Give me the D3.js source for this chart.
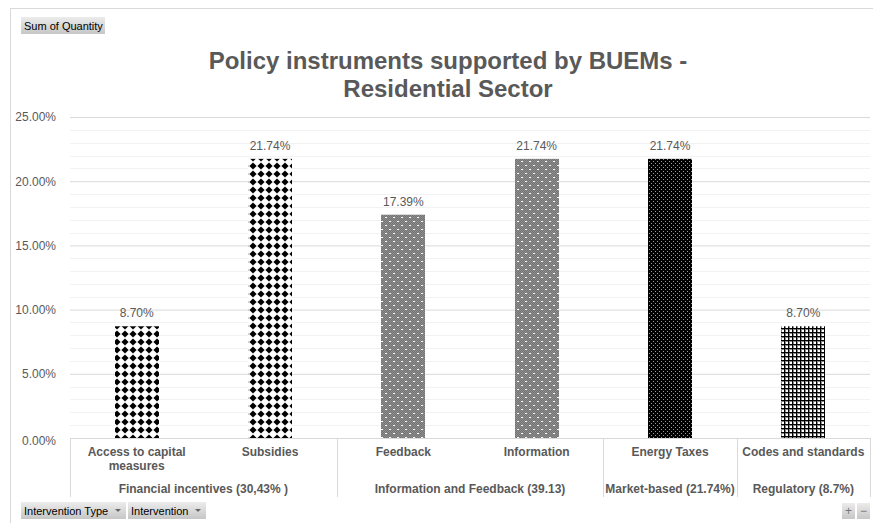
<!DOCTYPE html>
<html>
<head>
<meta charset="utf-8">
<script src="https://cdn.jsdelivr.net/npm/d3@7"></script>
<style>
  html, body { margin: 0; padding: 0; background: #fff; }
  svg { display: block; }
</style>
</head>
<body>
<svg id="chart" width="873" height="523"></svg>
<script>
// Share of policy instruments, by intervention
const categories = ["Access to capital measures", "Subsidies", "Feedback", "Information", "Energy Taxes", "Codes and standards"];
const values = [8.70, 21.74, 17.39, 21.74, 21.74, 8.70];
const groupLabels = ["Financial incentives (30,43% )", "Information and Feedback (39.13)", "Market-based (21.74%)", "Regulatory (8.7%)"];
const groupSizes = [2, 2, 1, 1];
const yTicks = [0, 5, 10, 15, 20, 25];
const titleLines = ["Policy instruments supported by BUEMs -", "Residential Sector"];

const fillPattern = ["diamonds", "diamonds", "graydots", "graydots", "darkdots", "grid"];

const svg = d3.select("#chart");
const plot = { left: 70, right: 870, top: 117, bottom: 438 };
const textColor = "#595959";
const font = "'Liberation Sans', Arial, sans-serif";

// Patterns
const defs = svg.append("defs");
{
  const p = defs.append("pattern").attr("id", "diamonds").attr("patternUnits", "userSpaceOnUse")
    .attr("width", 8).attr("height", 8).attr("x", 1).attr("y", 2);
  p.append("rect").attr("width", 8).attr("height", 8).attr("fill", "#fff");
  p.append("path").attr("d", "M4,0.4 L7.6,4 L4,7.6 L0.4,4 Z").attr("fill", "#000");
}
{
  const p = defs.append("pattern").attr("id", "graydots").attr("patternUnits", "userSpaceOnUse")
    .attr("width", 8).attr("height", 8);
  p.append("rect").attr("width", 8).attr("height", 8).attr("fill", "#737373");
  for (let i = 0; i < 8; i++) for (let j = 0; j < 8; j++) {
    if ((i + j) % 2 === 0) p.append("rect").attr("x", i).attr("y", j).attr("width", 1).attr("height", 1).attr("fill", "#8f8f8f");
  }
  p.append("rect").attr("x", 1).attr("y", 1).attr("width", 2).attr("height", 1).attr("fill", "#fff");
  p.append("rect").attr("x", 5).attr("y", 5).attr("width", 2).attr("height", 1).attr("fill", "#fff");
}
{
  const p = defs.append("pattern").attr("id", "darkdots").attr("patternUnits", "userSpaceOnUse")
    .attr("width", 4).attr("height", 4);
  p.append("rect").attr("width", 4).attr("height", 4).attr("fill", "#000");
  p.append("rect").attr("x", 1).attr("y", 1).attr("width", 1).attr("height", 1).attr("fill", "#999");
  p.append("rect").attr("x", 3).attr("y", 3).attr("width", 1).attr("height", 1).attr("fill", "#999");
}
{
  const p = defs.append("pattern").attr("id", "grid").attr("patternUnits", "userSpaceOnUse")
    .attr("width", 4).attr("height", 4);
  p.append("rect").attr("width", 4).attr("height", 4).attr("fill", "#fff");
  p.append("rect").attr("x", 0).attr("y", 0).attr("width", 1).attr("height", 4).attr("fill", "#000");
  p.append("rect").attr("x", 0).attr("y", 0).attr("width", 4).attr("height", 1).attr("fill", "#000");
  p.append("rect").attr("x", 1).attr("y", 1).attr("width", 1).attr("height", 3).attr("fill", "#888");
  p.append("rect").attr("x", 1).attr("y", 1).attr("width", 3).attr("height", 1).attr("fill", "#888");
}
{
  const g = defs.append("linearGradient").attr("id", "btn").attr("x1", 0).attr("y1", 0).attr("x2", 0).attr("y2", 1);
  g.append("stop").attr("offset", "0%").attr("stop-color", "#ececec");
  g.append("stop").attr("offset", "100%").attr("stop-color", "#c6c6c6");
}

// Chart frame
svg.append("rect").attr("x", 10.5).attr("y", 8.5).attr("width", 870).attr("height", 530)
  .attr("fill", "#fff").attr("stroke", "#d9d9d9");

// Scales
const x = d3.scaleBand().domain(categories).range([plot.left, plot.right]).paddingInner(0.67).paddingOuter(0.335);
const y = d3.scaleLinear().domain([0, 25]).range([plot.bottom, plot.top]);

// Gridlines: minor every 1%, major every 5%
const minor = d3.range(1, 25).filter(v => v % 5 !== 0);
svg.append("g").selectAll("line").data(minor).join("line")
  .attr("x1", plot.left).attr("x2", plot.right)
  .attr("y1", d => Math.round(y(d)) + 0.5).attr("y2", d => Math.round(y(d)) + 0.5)
  .attr("stroke", "#f2f2f2");

const yAxis = d3.axisLeft(y).tickValues(yTicks).tickSize(-(plot.right - plot.left)).tickPadding(14)
  .tickFormat(d => d3.format(".2f")(d) + "%");
const yg = svg.append("g").attr("transform", `translate(${plot.left},0)`).call(yAxis);
yg.select(".domain").remove();
yg.selectAll(".tick line").attr("stroke", "#d9d9d9");
yg.selectAll(".tick text").attr("fill", textColor).attr("font-family", font).attr("font-size", 12);
yg.selectAll(".tick").filter(d => d === 0).select("text").attr("dy", "0.55em");

// Bars
svg.append("g").selectAll("rect").data(categories).join("rect")
  .attr("x", d => Math.round(x(d)))
  .attr("y", (d, i) => y(values[i]))
  .attr("width", Math.round(x.bandwidth()))
  .attr("height", (d, i) => y(0) - y(values[i]))
  .attr("fill", (d, i) => `url(#${fillPattern[i]})`);

// Value labels
svg.append("g").selectAll("text").data(categories).join("text")
  .attr("x", d => x(d) + x.bandwidth() / 2)
  .attr("y", (d, i) => y(values[i]) - 9)
  .attr("text-anchor", "middle")
  .attr("font-family", font).attr("font-size", 12).attr("fill", textColor)
  .text((d, i) => d3.format(".2f")(values[i]) + "%");

// Category axis line and group separators
svg.append("line").attr("x1", plot.left).attr("x2", plot.right)
  .attr("y1", plot.bottom + 0.5).attr("y2", plot.bottom + 0.5).attr("stroke", "#d9d9d9");

const step = x.step();
let edges = [0];
groupSizes.forEach(n => edges.push(edges[edges.length - 1] + n));
svg.append("g").selectAll("line").data(edges).join("line")
  .attr("x1", d => Math.round(plot.left + d * step) + 0.5)
  .attr("x2", d => Math.round(plot.left + d * step) + 0.5)
  .attr("y1", plot.bottom).attr("y2", 497)
  .attr("stroke", "#d9d9d9");

// Category labels with wrapping
const catG = svg.append("g");
categories.forEach((c, i) => {
  const cx = x(c) + x.bandwidth() / 2;
  const t = catG.append("text").attr("x", cx).attr("y", 456).attr("text-anchor", "middle")
    .attr("font-family", font).attr("font-size", 12).attr("font-weight", "bold").attr("fill", textColor);
  const words = c.split(" ");
  let line = [];
  let tspan = t.append("tspan").attr("x", cx).attr("dy", 0);
  words.forEach(w => {
    line.push(w);
    tspan.text(line.join(" "));
    if (tspan.node().getComputedTextLength() > 128 && line.length > 1) {
      line.pop();
      tspan.text(line.join(" "));
      line = [w];
      tspan = t.append("tspan").attr("x", cx).attr("dy", 14).text(w);
    }
  });
});

// Group labels
svg.append("g").selectAll("text").data(groupLabels).join("text")
  .attr("x", (d, i) => plot.left + (edges[i] + edges[i + 1]) / 2 * step)
  .attr("y", 493)
  .attr("text-anchor", "middle")
  .attr("font-family", font).attr("font-size", 12).attr("font-weight", "bold").attr("fill", textColor)
  .text(d => d);

// Title
svg.append("text").attr("x", 448).attr("y", 69).attr("text-anchor", "middle")
  .attr("font-family", font).attr("font-size", 24).attr("font-weight", "bold").attr("fill", textColor)
  .selectAll("tspan").data(titleLines).join("tspan")
  .attr("x", 448).attr("dy", (d, i) => i === 0 ? 0 : 28).text(d => d);

// Pivot field buttons
function button(x0, y0, w, h, label, arrow) {
  const g = svg.append("g");
  g.append("rect").attr("x", x0).attr("y", y0).attr("width", w).attr("height", h).attr("fill", "url(#btn)");
  g.append("text").attr("x", x0 + 3).attr("y", y0 + h / 2 + 4)
    .attr("font-family", font).attr("font-size", 11).attr("fill", "#000").text(label);
  if (arrow) {
    g.append("path").attr("d", `M${x0 + w - 11},${y0 + 7} l6,0 l-3,3 Z`).attr("fill", "#666");
  }
}
button(21, 17, 84, 17, "Sum of Quantity", false);
button(21, 502, 105, 17, "Intervention Type", true);
button(128, 502, 78, 17, "Intervention", true);

// Zoom controls
const zg = svg.append("g");
[["+", 842], ["\u2212", 857]].forEach(([s, x0]) => {
  zg.append("rect").attr("x", x0).attr("y", 503).attr("width", 13).attr("height", 16).attr("fill", "url(#btn)");
  zg.append("text").attr("x", x0 + 6.5).attr("y", 515).attr("text-anchor", "middle")
    .attr("font-family", font).attr("font-size", 12).attr("fill", "#777").text(s);
});
</script>
</body>
</html>
